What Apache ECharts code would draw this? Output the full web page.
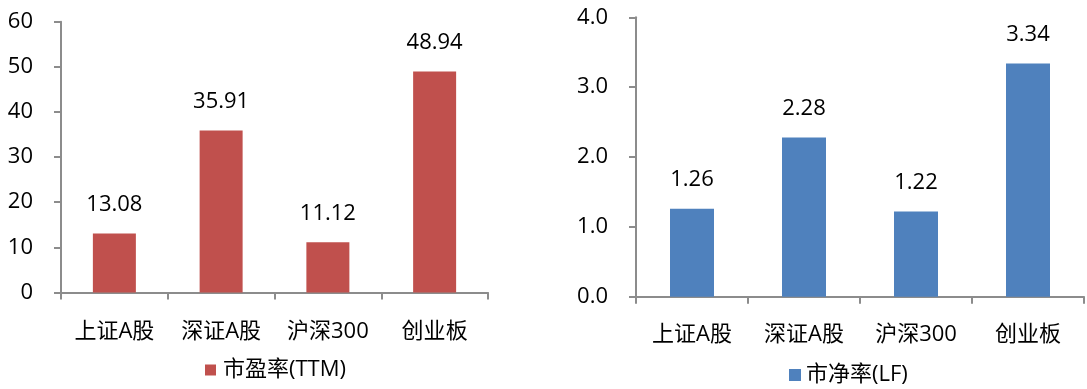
<!DOCTYPE html>
<html>
<head>
<meta charset="utf-8">
<script src="https://cdn.jsdelivr.net/npm/echarts@6/dist/echarts.min.js"></script>
<style>
html,body{margin:0;padding:0;background:#fff;}
#c{width:1087px;height:389px;}
</style>
</head>
<body>
<div id="c"></div>
<script>
var categories = ['上证A股', '深证A股', '沪深300', '创业板'];
var peName = '市盈率(TTM)';
var peValues = [13.08, 35.91, 11.12, 48.94];
var pbName = '市净率(LF)';
var pbValues = [1.26, 2.28, 1.22, 3.34];

var FONT = '"Open Sans", "Noto Sans CJK SC", sans-serif';
var AXIS_COLOR = '#8c8c8c';
var TEXT_COLOR = '#000';
var FS = 22;

function xAxis(gi) {
  return {
    type: 'category', gridIndex: gi, data: categories,
    axisLine: {lineStyle: {color: AXIS_COLOR, width: 2}},
    axisTick: {show: true, length: 7, lineStyle: {color: AXIS_COLOR, width: 2}},
    axisLabel: {color: TEXT_COLOR, fontSize: FS, fontFamily: FONT, margin: gi === 0 ? 28 : 27}
  };
}
function yAxis(gi, max, interval, fmt) {
  return {
    type: 'value', gridIndex: gi, min: 0, max: max, interval: interval,
    axisLine: {show: true, lineStyle: {color: AXIS_COLOR, width: 2}},
    axisTick: {show: true, length: 7, lineStyle: {color: AXIS_COLOR, width: 2}},
    splitLine: {show: false},
    axisLabel: {color: TEXT_COLOR, fontSize: FS, fontFamily: FONT, margin: 28, formatter: fmt}
  };
}

var chart = echarts.init(document.getElementById('c'), null, {renderer: 'canvas'});
chart.setOption({
  animation: false,
  backgroundColor: '#fff',
  grid: [
    {left: 61, top: 21.7, width: 427, height: 270.8},
    {left: 636, top: 17.3, width: 448, height: 279.4}
  ],
  xAxis: [xAxis(0), xAxis(1)],
  yAxis: [
    yAxis(0, 60, 10, function (v) { return String(v); }),
    yAxis(1, 4, 1, function (v) { return v.toFixed(1); })
  ],
  legend: [
    {data: [peName], left: 205, top: 358, padding: 0, itemWidth: 11, itemHeight: 11, itemGap: 7,
     icon: 'rect', textStyle: {color: TEXT_COLOR, fontSize: FS, fontFamily: FONT, lineHeight: 24, padding: [0,0,0,2]}},
    {data: [pbName], left: 789, top: 363, padding: 0, itemWidth: 12, itemHeight: 12, itemGap: 7,
     icon: 'rect', textStyle: {color: TEXT_COLOR, fontSize: FS, fontFamily: FONT, lineHeight: 24, padding: [0,0,0,0]}}
  ],
  series: [
    {name: peName, type: 'bar', xAxisIndex: 0, yAxisIndex: 0, data: peValues,
     barWidth: 43, itemStyle: {color: '#C0504D'},
     label: {show: true, position: 'top', distance: 18, color: TEXT_COLOR, fontSize: FS, fontFamily: FONT,
             formatter: function (p) { return p.value.toFixed(2); }}},
    {name: pbName, type: 'bar', xAxisIndex: 1, yAxisIndex: 1, data: pbValues,
     barWidth: 44, itemStyle: {color: '#4F81BD'},
     label: {show: true, position: 'top', distance: 18, color: TEXT_COLOR, fontSize: FS, fontFamily: FONT,
             formatter: function (p) { return p.value.toFixed(2); }}}
  ]
});
</script>
</body>
</html>
